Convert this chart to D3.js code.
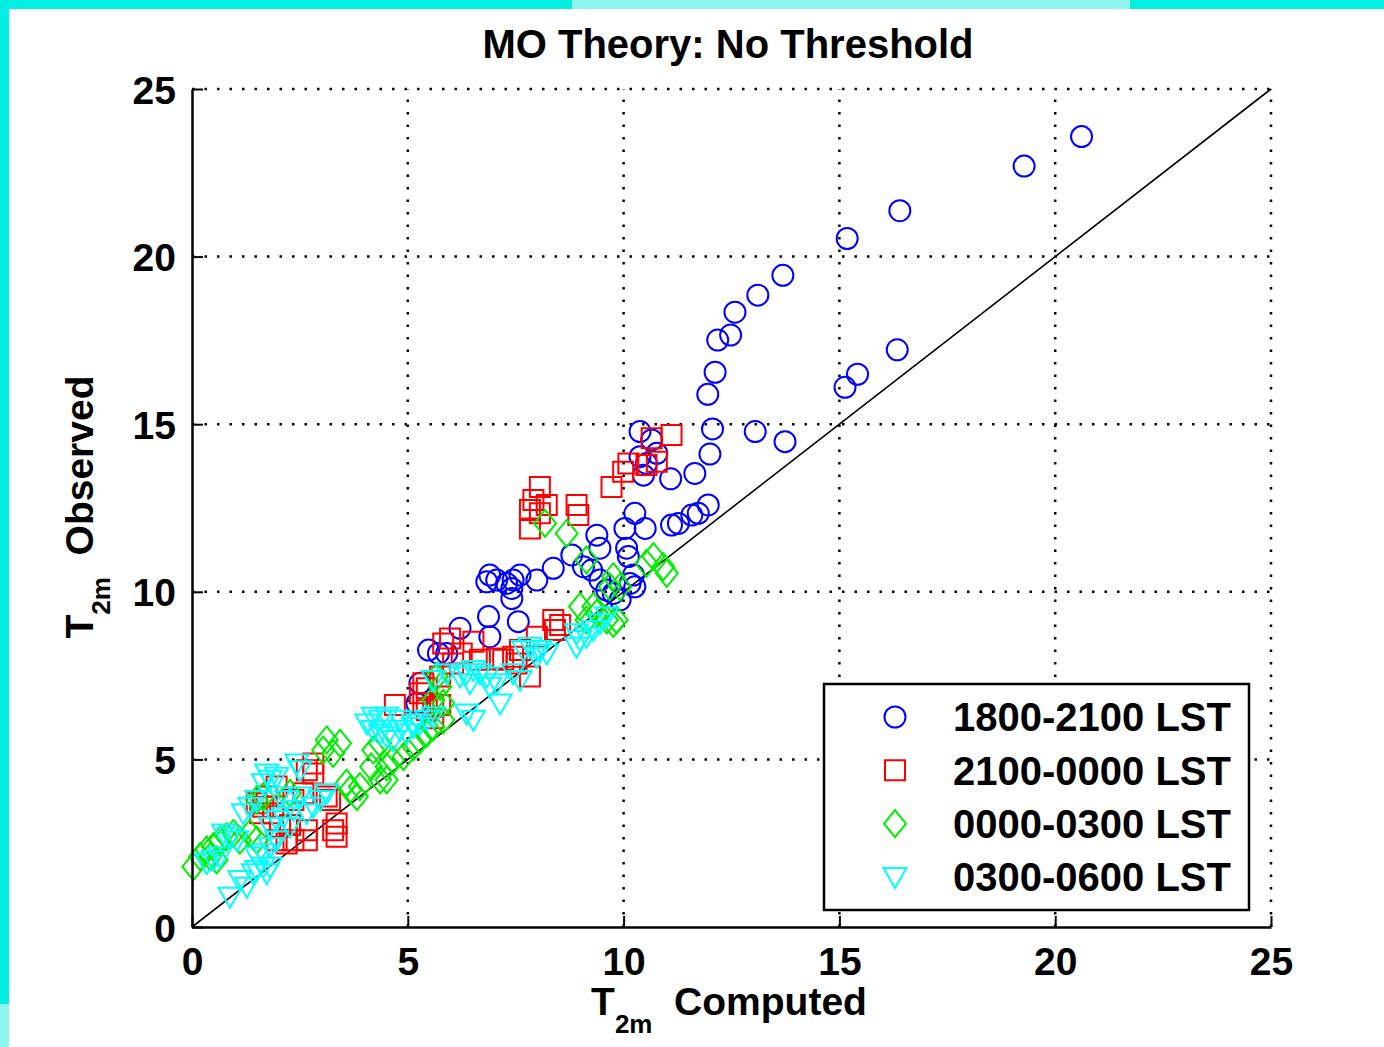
<!DOCTYPE html>
<html>
<head>
<meta charset="utf-8">
<script src="https://cdn.jsdelivr.net/npm/d3@7"></script>
<style>
  html, body { margin: 0; padding: 0; background: #fff; }
  svg { display: block; font-family: "Liberation Sans", Arial, sans-serif; font-weight: bold; }
</style>
</head>
<body>
<svg id="chart" width="1384" height="1047"></svg>
<script>
// series data: [T2m computed, T2m observed]
const s1800 = [[20.61,23.58],[19.28,22.70],[16.40,21.37],[15.18,20.54],[13.69,19.44],[13.11,18.85],[12.58,18.34],
  [12.48,17.66],[12.18,17.51],[12.12,16.55],[11.95,15.89],[12.06,14.86],[13.05,14.78],[13.74,14.48],[12.00,14.11],
  [11.65,13.53],[11.09,13.37],[10.38,14.78],[10.65,14.53],[10.46,13.48],[10.38,14.03],[16.34,17.22],[15.42,16.49],
  [15.13,16.10],[11.96,12.59],[11.73,12.34],[11.58,12.29],[10.26,12.34],[10.03,11.89],[10.50,11.89],[11.11,11.99],
  [11.27,12.04],[10.77,14.13],[10.53,13.83],[9.38,11.69],[9.45,11.30],[9.07,10.75],[10.07,11.30],[10.11,11.05],
  [8.80,11.10],[8.37,10.70],[7.99,10.35],[7.60,10.50],[7.44,10.35],[7.29,10.25],[6.90,10.50],[6.83,10.30],
  [7.06,10.35],[7.41,9.80],[7.41,10.10],[9.26,10.65],[9.45,10.35],[9.61,10.05],[9.76,9.95],[10.23,10.50],
  [10.15,10.25],[9.92,9.76],[10.26,10.15],[6.87,9.26],[7.56,9.11],[6.90,8.66],[6.21,8.91],[5.71,8.16],
  [5.48,8.26],[5.90,8.16],[5.28,7.27],[5.21,6.67]];
const s2100 = [[11.11,14.68],[10.65,14.58],[10.77,13.88],[10.53,13.78],[10.11,13.83],[9.99,13.58],[9.72,13.13],
  [8.06,13.13],[7.91,12.74],[8.22,12.59],[7.83,12.44],[8.06,12.34],[7.83,11.89],[8.91,12.59],[8.95,12.29],
  [8.37,9.16],[8.53,9.01],[8.41,8.86],[7.99,8.66],[5.98,8.61],[6.52,8.51],[7.60,8.26],[7.44,8.06],[7.21,7.97],
  [7.06,8.01],[7.52,7.86],[6.67,7.97],[7.83,7.47],[6.25,8.16],[6.05,7.86],[5.82,8.46],[5.36,7.27],[5.28,6.97],
  [5.36,6.67],[5.59,6.57],[4.70,6.62],[5.75,7.47],[5.75,6.62],[5.44,7.12],[5.44,6.47],[5.59,6.23],[2.81,4.88],
  [2.66,4.68],[2.81,4.58],[1.96,4.19],[1.73,3.89],[1.65,3.59],[1.58,3.39],[1.88,3.39],[2.04,2.99],[1.96,2.59],
  [2.19,2.49],[2.66,2.59],[2.66,2.89],[3.27,2.89],[3.35,2.69],[3.35,3.09],[3.12,3.89],[3.20,3.79],[2.58,3.99],
  [2.35,3.79],[1.50,3.69],[2.27,3.04],[2.35,2.59]];
const s0000 = [[8.18,12.04],[8.68,11.74],[9.14,10.95],[10.69,11.05],[10.92,10.75],[10.53,10.85],[11.00,10.55],
  [9.68,10.15],[9.92,10.15],[9.76,10.45],[8.99,9.56],[9.30,9.56],[9.38,9.36],[9.14,9.16],[9.61,9.16],[9.76,9.06],
  [9.84,9.16],[5.67,7.47],[5.75,7.17],[5.59,6.77],[5.82,6.67],[3.12,5.58],[3.43,5.48],[3.04,5.28],[3.27,5.18],
  [3.58,4.29],[3.66,4.09],[3.82,3.89],[3.89,4.19],[4.36,5.48],[4.20,5.28],[4.15,4.78],[4.51,4.78],[4.51,4.39],
  [4.36,4.39],[4.66,4.98],[4.90,5.08],[5.13,5.38],[5.28,5.58],[5.44,5.78],[5.59,5.97],[5.82,6.18],[1.65,3.89],
  [1.50,3.79],[0.03,1.80],[0.19,2.10],[0.34,2.30],[0.49,2.39],[0.65,2.59],[0.80,2.69],[0.96,2.79],[1.11,2.59],
  [0.57,2.00],[0.42,2.10],[1.34,2.79],[1.50,2.59],[2.27,3.99]];
const s0300 = [[0.88,0.90],[1.11,1.40],[1.27,1.20],[1.50,1.70],[1.65,1.80],[1.81,1.80],[1.73,1.60],[0.49,2.00],
  [0.65,2.10],[0.34,1.90],[0.73,2.79],[0.88,2.69],[1.04,2.59],[1.19,3.39],[1.34,3.59],[1.50,3.79],[1.65,4.29],
  [1.81,4.39],[1.96,4.48],[1.73,4.58],[2.04,3.89],[2.19,3.79],[2.35,3.49],[2.12,3.29],[1.96,3.19],[2.27,2.99],
  [1.81,2.99],[2.43,4.88],[2.50,4.68],[1.65,2.20],[1.81,2.39],[1.96,2.59],[1.50,2.10],[1.42,1.60],[2.66,3.39],
  [2.81,3.59],[2.97,3.79],[3.12,3.99],[2.50,3.89],[4.20,5.88],[4.36,5.78],[4.51,5.68],[4.66,5.58],[4.82,5.88],
  [4.97,5.78],[5.13,5.97],[5.28,6.07],[5.44,6.18],[5.59,6.28],[4.05,6.07],[4.20,6.27],[4.36,6.18],[6.36,6.37],
  [6.52,6.18],[6.44,7.27],[6.36,7.57],[8.06,8.26],[7.99,8.06],[8.22,8.16],[7.14,6.67],[8.91,8.76],[8.99,8.56],
  [9.14,8.66],[9.30,8.86],[9.45,9.06],[9.61,9.26],[8.91,8.36],[7.83,8.36],[7.68,8.26],[7.99,8.26],[6.52,7.67],
  [6.67,7.57],[6.83,7.47],[6.21,7.47],[5.90,7.57],[5.59,7.37],[6.90,7.17],[7.06,7.27],[4.51,6.27],[4.82,6.18],
  [5.13,6.07],[7.44,7.57],[7.60,7.37]];

const seriesNames = ['1800-2100 LST', '2100-0000 LST', '0000-0300 LST', '0300-0600 LST'];
const seriesColors = ['#0000ff', '#ff0000', '#00ee00', '#00ffff'];
const seriesMarkers = ['circle', 'square', 'diamond', 'triangleDown'];
const xTicks = [0, 5, 10, 15, 20, 25];
const yTicks = [0, 5, 10, 15, 20, 25];
const domainMin = 0, domainMax = 25;

const svg = d3.select('#chart');

// frame decoration of the screenshot
svg.append('rect').attr('x', 0).attr('y', 0).attr('width', 1384).attr('height', 9).attr('fill', '#00efe1');
svg.append('rect').attr('x', 572).attr('y', 0).attr('width', 558).attr('height', 9).attr('fill', '#8ef5ef');
svg.append('rect').attr('x', 0).attr('y', 0).attr('width', 9).attr('height', 1047).attr('fill', '#00efe1');
svg.append('rect').attr('x', 0).attr('y', 1004).attr('width', 9).attr('height', 43).attr('fill', '#8ef5ef');

const plotLeft = 192, plotRight = 1271, plotTop = 89, plotBottom = 927;
const x = d3.scaleLinear().domain([domainMin, domainMax]).range([plotLeft, plotRight]);
const y = d3.scaleLinear().domain([domainMin, domainMax]).range([plotBottom, plotTop]);

// dotted grid
const grid = svg.append('g').attr('stroke', '#000').attr('stroke-width', 2.5)
  .attr('stroke-dasharray', '2.5 10');
grid.selectAll('.gx').data(xTicks.filter(d => d > 0)).enter().append('line')
  .attr('x1', d => x(d)).attr('x2', d => x(d)).attr('y1', plotBottom).attr('y2', plotTop);
grid.selectAll('.gy').data(yTicks.filter(d => d > 0)).enter().append('line')
  .attr('y1', d => y(d)).attr('y2', d => y(d)).attr('x1', plotLeft).attr('x2', plotRight);

// 1:1 line
svg.append('line')
  .attr('x1', x(domainMin)).attr('y1', y(domainMin))
  .attr('x2', x(domainMax)).attr('y2', y(domainMax))
  .attr('stroke', '#000').attr('stroke-width', 1.6);

// marker shapes
function markerPath(kind) {
  if (kind === 'square') return 'M-10,-10H10V10H-10Z';
  if (kind === 'diamond') return 'M0,-13.5L11,0L0,13.5L-11,0Z';
  if (kind === 'triangleDown') return 'M-11.5,-9L11.5,-9L0,11Z';
  return 'M-10.5,0A10.5,10.5 0 1,0 10.5,0A10.5,10.5 0 1,0 -10.5,0Z';
}

const allSeries = [s1800, s2100, s0000, s0300];
allSeries.forEach((data, i) => {
  svg.append('g').selectAll('path').data(data).enter().append('path')
    .attr('d', markerPath(seriesMarkers[i]))
    .attr('transform', d => `translate(${x(d[0])},${y(d[1])})`)
    .attr('fill', 'none')
    .attr('stroke', seriesColors[i])
    .attr('stroke-width', 2);
});

// axes
const xAxis = d3.axisBottom(x).tickValues(xTicks).tickSizeInner(-11).tickSizeOuter(0).tickPadding(20);
const yAxis = d3.axisLeft(y).tickValues(yTicks).tickSizeInner(-11).tickSizeOuter(0).tickPadding(16);

const gx = svg.append('g').attr('transform', `translate(0,${plotBottom})`).call(xAxis);
const gy = svg.append('g').attr('transform', `translate(${plotLeft},0)`).call(yAxis);
[gx, gy].forEach(g => {
  g.select('.domain').attr('stroke', '#000').attr('stroke-width', 2.5);
  g.selectAll('.tick line').attr('stroke', '#000').attr('stroke-width', 2);
  g.selectAll('.tick text').attr('fill', '#000')
    .style('font-family', '"Liberation Sans", Arial, sans-serif')
    .style('font-weight', 'bold').style('font-size', '39px');
});
gx.selectAll('.tick text').attr('dy', '0.71em');
gy.selectAll('.tick text').attr('dy', '0.36em');

// title
svg.append('text')
  .attr('x', 728).attr('y', 58)
  .attr('text-anchor', 'middle')
  .style('font-size', '40px')
  .text('MO Theory: No Threshold');

// x label
const xl = svg.append('text')
  .attr('x', 729).attr('y', 1015)
  .attr('text-anchor', 'middle')
  .style('font-size', '39px');
xl.append('tspan').text('T');
xl.append('tspan').attr('dy', 18).style('font-size', '26px').text('2m');
xl.append('tspan').attr('dy', -18).text('\u00a0 Computed');

// y label
const yl = svg.append('text')
  .attr('transform', 'translate(93,507) rotate(-90)')
  .attr('text-anchor', 'middle')
  .style('font-size', '39px');
yl.append('tspan').text('T');
yl.append('tspan').attr('dy', 17).style('font-size', '26px').text('2m');
yl.append('tspan').attr('dy', -17).text('\u00a0 Observed');

// legend
const legend = svg.append('g');
legend.append('rect')
  .attr('x', 824).attr('y', 684).attr('width', 425).attr('height', 226)
  .attr('fill', '#fff').attr('stroke', '#000').attr('stroke-width', 2.5);
const rowY = d3.scalePoint().domain(seriesNames).range([717, 877]);
seriesNames.forEach((name, i) => {
  legend.append('path')
    .attr('d', markerPath(seriesMarkers[i]))
    .attr('transform', `translate(895,${rowY(name)})`)
    .attr('fill', 'none').attr('stroke', seriesColors[i]).attr('stroke-width', 2);
  legend.append('text')
    .attr('x', 953).attr('y', rowY(name))
    .attr('dy', '0.36em')
    .style('font-size', '40px')
    .text(name);
});
</script>
</body>
</html>
